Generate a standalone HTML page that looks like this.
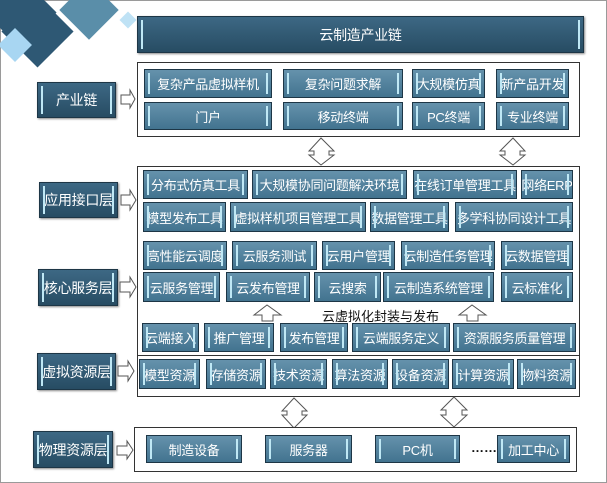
<!DOCTYPE html>
<html><head><meta charset="utf-8"><style>
*{margin:0;padding:0;box-sizing:border-box}
body{width:607px;height:483px;background:#fff;position:relative;overflow:hidden;font-family:"Liberation Sans","Noto Sans CJK SC",sans-serif}
.frame{position:absolute;left:0;top:0;width:607px;height:483px;border:1px solid #9a9a9a}
.d{position:absolute;transform:rotate(45deg)}
.b{position:absolute;border:1px solid #1d3646;background:linear-gradient(#6592ac,#42738f);color:#fff;font-size:13px;display:flex;align-items:center;justify-content:center;white-space:nowrap;overflow:hidden;letter-spacing:-0.3px}
.b::before,.b::after{content:"";position:absolute;top:3px;bottom:3px;width:2px;background:#bfe8f5}
.b::before{left:3px}.b::after{right:3px}
.l{background:linear-gradient(#3d6884,#274c63);font-size:14px;box-shadow:1px 1px 2px #888}
.c{position:absolute;border:1px solid #333;background:#fff}
.t{position:absolute;font-size:13px;color:#111}
svg{position:absolute;overflow:visible}
</style></head><body>
<div class="frame"></div>
<div class="d" style="left:12px;top:6px;width:51px;height:51px;background:#2e5874"></div>
<div class="d" style="left:-5px;top:-13px;width:51px;height:51px;background:#2e5874"></div>
<div class="d" style="left:68px;top:-11px;width:42px;height:42px;background:#5a8ea9"></div>
<div class="d" style="left:3px;top:33px;width:24px;height:24px;background:#a8d6f2"></div>
<div class="d" style="left:122px;top:14px;width:12px;height:12px;background:#bfe2f5"></div>

<div class="b l" style="left:137px;top:16px;width:447px;height:37px;font-size:14px">云制造产业链</div>

<div class="c" style="left:137px;top:62px;width:443px;height:75px"></div>
<div class="b" style="left:144px;top:69px;width:128px;height:29px">复杂产品虚拟样机</div>
<div class="b" style="left:283px;top:69px;width:120px;height:29px">复杂问题求解</div>
<div class="b" style="left:412px;top:69px;width:73px;height:29px">大规模仿真</div>
<div class="b" style="left:496px;top:69px;width:73px;height:29px">新产品开发</div>
<div class="b" style="left:144px;top:102px;width:128px;height:28px">门户</div>
<div class="b" style="left:283px;top:102px;width:120px;height:28px">移动终端</div>
<div class="b" style="left:412px;top:102px;width:73px;height:28px">PC终端</div>
<div class="b" style="left:496px;top:102px;width:73px;height:28px">专业终端</div>

<div class="c" style="left:137px;top:166px;width:443px;height:231px"></div>
<div style="position:absolute;left:137px;top:355px;width:443px;height:1px;background:#333"></div>
<div class="b" style="left:143px;top:170px;width:105px;height:29px">分布式仿真工具</div>
<div class="b" style="left:252px;top:170px;width:155px;height:29px">大规模协同问题解决环境</div>
<div class="b" style="left:413px;top:170px;width:104px;height:29px">在线订单管理工具</div>
<div class="b" style="left:521px;top:170px;width:52px;height:29px">网络ERP</div>
<div class="b" style="left:143px;top:202px;width:83px;height:30px">模型发布工具</div>
<div class="b" style="left:230px;top:202px;width:136px;height:30px">虚拟样机项目管理工具</div>
<div class="b" style="left:370px;top:202px;width:79px;height:30px">数据管理工具</div>
<div class="b" style="left:455px;top:202px;width:118px;height:30px">多学科协同设计工具</div>

<div class="b" style="left:143px;top:241px;width:84px;height:29px">高性能云调度</div>
<div class="b" style="left:232px;top:241px;width:85px;height:29px">云服务测试</div>
<div class="b" style="left:322px;top:241px;width:73px;height:29px">云用户管理</div>
<div class="b" style="left:401px;top:241px;width:94px;height:29px">云制造任务管理</div>
<div class="b" style="left:501px;top:241px;width:72px;height:29px">云数据管理</div>
<div class="b" style="left:143px;top:272px;width:77px;height:30px">云服务管理</div>
<div class="b" style="left:226px;top:272px;width:84px;height:30px">云发布管理</div>
<div class="b" style="left:314px;top:272px;width:67px;height:30px">云搜索</div>
<div class="b" style="left:383px;top:272px;width:111px;height:30px">云制造系统管理</div>
<div class="b" style="left:501px;top:272px;width:72px;height:30px">云标准化</div>
<div class="t" style="left:322px;top:306px">云虚拟化封装与发布</div>
<svg style="left:0;top:0" width="607" height="483">
<g fill="#fff" stroke="#555" stroke-width="1">
<polygon points="254,315 267,305 281,315 273,315 273,321 262,321 262,315"/>
<polygon points="459,315 472,305 486,315 478,315 478,321 467,321 467,315"/>
<polygon points="321,138 334,151 329,151 329,155 334,155 321,165 309,155 314,155 314,151 309,151"/>
<polygon points="513,138 525,151 520,151 520,155 525,155 513,165 500,155 505,155 505,151 500,151"/>
<polygon points="294,398 307,411 302,411 302,415 307,415 294,428 282,415 287,415 287,411 282,411"/>
<polygon points="454,397 467,410 462,410 462,415 467,415 454,427 441,415 446,415 446,410 441,410"/>
<polygon points="121,95 130,95 130,90 135,99 130,108 130,104 121,104"/>
<polygon points="121,195 130,195 130,190 136,200 130,210 130,205 121,205"/>
<polygon points="120,282 130,282 130,277 136,287 130,297 130,292 120,292"/>
<polygon points="118,366 128,366 128,361 134,371 128,381 128,376 118,376"/>
<polygon points="117,446 127,446 127,441 133,450 127,459 127,455 117,455"/>
</g></svg>
<div class="b" style="left:142px;top:323px;width:57px;height:29px">云端接入</div>
<div class="b" style="left:204px;top:323px;width:70px;height:29px">推广管理</div>
<div class="b" style="left:280px;top:323px;width:68px;height:29px">发布管理</div>
<div class="b" style="left:352px;top:323px;width:98px;height:29px">云端服务定义</div>
<div class="b" style="left:453px;top:323px;width:123px;height:29px">资源服务质量管理</div>

<div class="b" style="left:139px;top:359px;width:61px;height:30px">模型资源</div>
<div class="b" style="left:206px;top:359px;width:60px;height:30px">存储资源</div>
<div class="b" style="left:270px;top:359px;width:57px;height:30px">技术资源</div>
<div class="b" style="left:332px;top:359px;width:56px;height:30px">算法资源</div>
<div class="b" style="left:392px;top:359px;width:57px;height:30px">设备资源</div>
<div class="b" style="left:452px;top:359px;width:62px;height:30px">计算资源</div>
<div class="b" style="left:517px;top:359px;width:59px;height:30px">物料资源</div>

<div class="c" style="left:134px;top:427px;width:443px;height:45px"></div>
<div class="b" style="left:146px;top:435px;width:96px;height:28px">制造设备</div>
<div class="b" style="left:265px;top:435px;width:87px;height:28px">服务器</div>
<div class="b" style="left:375px;top:435px;width:85px;height:28px">PC机</div>
<div class="t" style="left:471px;top:440px;font-weight:bold">……</div>
<div class="b" style="left:497px;top:435px;width:73px;height:28px">加工中心</div>

<div class="b l" style="left:37px;top:82px;width:79px;height:36px">产业链</div>
<div class="b l" style="left:39px;top:182px;width:79px;height:36px">应用接口层</div>
<div class="b l" style="left:38px;top:269px;width:80px;height:37px">核心服务层</div>
<div class="b l" style="left:37px;top:353px;width:79px;height:37px">虚拟资源层</div>
<div class="b l" style="left:33px;top:431px;width:80px;height:37px">物理资源层</div>
</body></html>
